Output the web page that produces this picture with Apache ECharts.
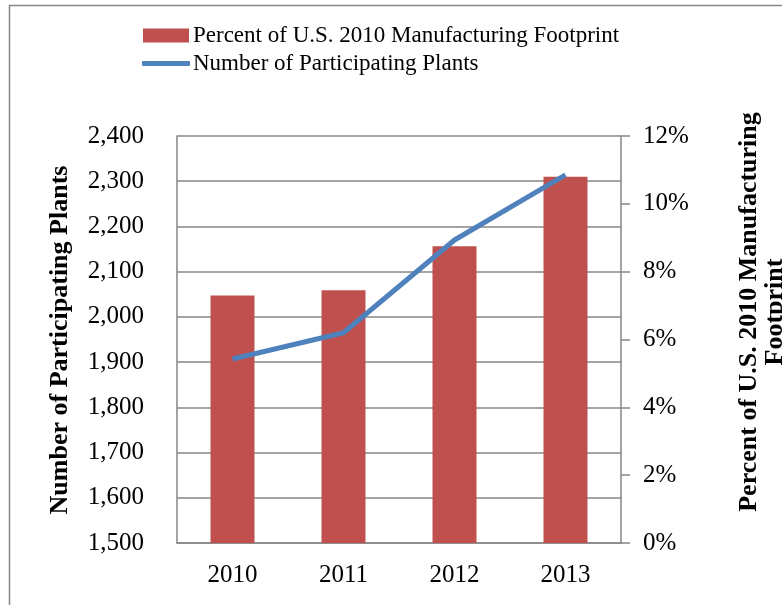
<!DOCTYPE html>
<html>
<head>
<meta charset="utf-8">
<script src="https://cdn.jsdelivr.net/npm/echarts@6/dist/echarts.min.js"></script>
<style>html,body{margin:0;padding:0;background:#fff}#c{width:782px;height:605px}</style>
</head>
<body>
<div id="c"></div>
<script>
var years = ['2010', '2011', '2012', '2013'];
var percentFootprint = [7.3, 7.45, 8.75, 10.8];
var participatingPlants = [1907, 1965, 2170, 2314];
var leftTicks = [1500, 2400, 100];
var rightTicks = [0, 12, 2];

var FONT = '"Liberation Serif", "Times New Roman", serif';
var GRAY = '#868686';
var chart = echarts.init(document.getElementById('c'), null, {renderer: 'canvas'});
chart.setOption({
  animation: false,
  backgroundColor: '#fff',
  grid: {left: 177, right: 161, top: 136, bottom: 62, containLabel: false},
  legend: [
    {
      orient: 'vertical', left: 143, top: 24, padding: 0,
      itemWidth: 46, itemHeight: 14, icon: 'rect',
      textStyle: {fontFamily: FONT, fontSize: 23, color: '#000', padding: [0, 0, 0, -1]},
      data: ['Percent of U.S. 2010 Manufacturing Footprint']
    },
    {
      orient: 'vertical', left: 142, top: 52, padding: 0,
      itemWidth: 48, itemHeight: 5, icon: 'roundRect',
      textStyle: {fontFamily: FONT, fontSize: 23, color: '#000', padding: [0, 0, 0, -2]},
      data: ['Number of Participating Plants']
    }
  ],
  graphic: [
    {type: 'rect', silent: true, shape: {x: 9.5, y: 5.5, width: 900, height: 800},
     style: {fill: null, stroke: GRAY, lineWidth: 1.5}, z: -10},
    {type: 'text', x: 60, y: 340, rotation: Math.PI / 2,
     style: {text: 'Number of Participating Plants', font: 'bold 26px ' + FONT, fill: '#000',
             align: 'center', verticalAlign: 'middle'}},
    {type: 'text', x: 762, y: 312, rotation: Math.PI / 2,
     style: {text: 'Percent of U.S. 2010 Manufacturing\nFootprint', font: 'bold 26px ' + FONT, fill: '#000',
             align: 'center', verticalAlign: 'middle', lineHeight: 26}}
  ],
  xAxis: {
    type: 'category', data: years,
    axisLine: {lineStyle: {color: GRAY, width: 1.5}},
    axisTick: {show: false},
    axisLabel: {fontFamily: FONT, fontSize: 25, color: '#000', margin: 20}
  },
  yAxis: [
    {
      type: 'value', min: leftTicks[0], max: leftTicks[1], interval: leftTicks[2],
      axisLine: {show: true, lineStyle: {color: GRAY, width: 1.5}},
      axisTick: {show: false},
      splitLine: {lineStyle: {color: GRAY, width: 1.5}},
      axisLabel: {fontFamily: FONT, fontSize: 25, color: '#000', margin: 33,
        formatter: function (v) { return v.toLocaleString('en-US'); }}
    },
    {
      type: 'value', position: 'right', min: rightTicks[0], max: rightTicks[1], interval: rightTicks[2],
      axisLine: {show: true, lineStyle: {color: GRAY, width: 1.5}},
      axisTick: {show: true, length: 9, lineStyle: {color: GRAY, width: 1.5}},
      splitLine: {show: false},
      axisLabel: {fontFamily: FONT, fontSize: 25, color: '#000', margin: 22,
        formatter: function (v) { return v + '%'; }}
    }
  ],
  series: [
    {
      name: 'Percent of U.S. 2010 Manufacturing Footprint', type: 'bar', yAxisIndex: 1,
      data: percentFootprint, barWidth: 44,
      itemStyle: {color: '#C0504D'}, z: 2
    },
    {
      name: 'Number of Participating Plants', type: 'line', yAxisIndex: 0,
      data: participatingPlants, symbol: 'none', showSymbol: false,
      lineStyle: {color: '#4F81BD', width: 5}, itemStyle: {color: '#4F81BD'}, z: 3
    }
  ]
});
</script>
</body>
</html>
